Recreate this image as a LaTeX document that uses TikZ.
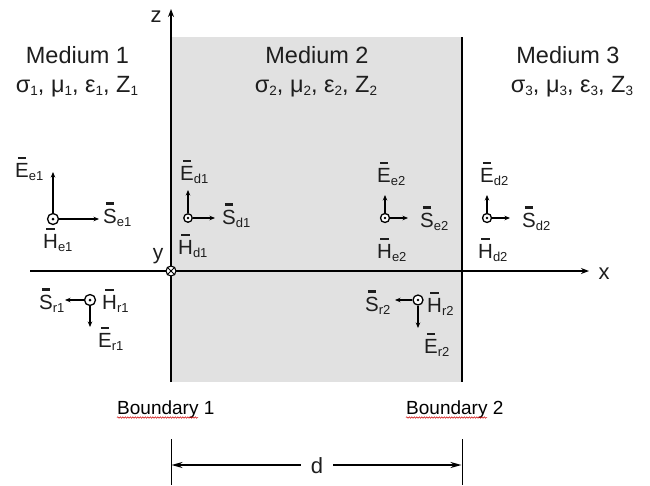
\documentclass[tikz,border=0pt]{standalone}
\usepackage{fontspec}
\setmainfont{Liberation Sans}
\usetikzlibrary{arrows.meta,decorations.pathmorphing}
\definecolor{shd}{RGB}{225,225,225}
\definecolor{tc}{RGB}{30,30,30}
\newsavebox{\vbx}
\newcommand{\vbar}[1]{\sbox{\vbx}{#1}\rlap{\hbox to \wd\vbx{\hss\raisebox{\dimexpr\ht\vbx+4pt\relax}{\rule{0.6\wd\vbx}{2.2pt}}\hss}}\usebox{\vbx}}
\newcommand{\vl}[2]{\vbar{#1}\raisebox{-3pt}{\fontsize{13}{13}\selectfont #2}}
\newcommand{\sbs}[1]{\raisebox{-3pt}{\fontsize{13.5}{13.5}\selectfont #1}}
\tikzset{
  axis/.style={line width=1.8pt, -{Stealth[length=8pt,width=6pt]}},
  bline/.style={line width=1.3pt},
  varr/.style={line width=1.4pt, -{Stealth[length=5.5pt,width=4.5pt]}},
  dotc/.style={circle, draw, line width=1.3pt, fill=white, inner sep=0pt},
  lab/.style={font=\fontsize{20.5}{21}\selectfont, inner sep=0pt, anchor=base west, text=tc},
  med/.style={font=\fontsize{23.5}{27}\selectfont, inner sep=0pt, anchor=base, text=tc},
  bnd/.style={font=\fontsize{19}{22}\selectfont, inner sep=0pt, anchor=base west, text=black},
  wavy/.style={draw=red!80!black, line width=0.5pt, decorate, decoration={snake, amplitude=0.7pt, segment length=2.5pt}},
  tick/.style={line width=1pt},
  dim/.style={line width=1.8pt, -{Stealth[length=11pt,width=6pt]}}
}
\begin{document}
\begin{tikzpicture}[x=1pt,y=-1pt]
\useasboundingbox (0,0) rectangle (650,485);
\fill[white] (0,0) rectangle (650,485);
% medium 2 shading and boundary 2
\fill[shd] (172,37) rectangle (462,382);
\coordinate (b2t) at (462,37);
\coordinate (b2b) at (462,382);
\draw[bline] (b2t) -- (b2b);
% axes
\coordinate (zb) at (171,382);
\coordinate (zt) at (171,9);
\draw[axis] (zb) -- (zt);
\coordinate (xl) at (30,271);
\coordinate (xr) at (589,271);
\draw[axis] (xl) -- (xr);
\node[font=\fontsize{22}{22}\selectfont, text=tc, inner sep=0pt] (zl) at (156,17) {z};
\node[font=\fontsize{22}{22}\selectfont, text=tc, inner sep=0pt] (xlab) at (604,274) {x};
\node[font=\fontsize{21}{21}\selectfont, text=tc, inner sep=0pt] (ylab) at (158,256) {y};
% origin (y into page)
\node[circle, draw, line width=1.1pt, fill=white, minimum size=10pt, inner sep=0pt] (o) at (171,271) {};
\draw[line width=0.9pt] (o.45) -- (o.225) (o.135) -- (o.315);
% medium labels
\node[med] (m1) at (77.5,63) {Medium 1};
\node[med] (p1) at (77,92) {σ\sbs{1}, μ\sbs{1}, ε\sbs{1}, Z\sbs{1}};
\node[med] (m2) at (317,63) {Medium 2};
\node[med] (p2) at (316,92) {σ\sbs{2}, μ\sbs{2}, ε\sbs{2}, Z\sbs{2}};
\node[med] (m3) at (568,63) {Medium 3};
\node[med] (p3) at (572,92) {σ\sbs{3}, μ\sbs{3}, ε\sbs{3}, Z\sbs{3}};
% incident wave, medium 1
\node[dotc, minimum size=11pt] (ce1) at (53,219) {};
\fill (ce1.center) circle (1.5pt);
\coordinate (ue1) at (53,172);
\coordinate (re1) at (99,219);
\draw[varr] (ce1) -- (ue1);
\draw[varr] (ce1) -- (re1);
\node[lab] (Ee1) at (15,177) {\vl{E}{e1}};
\node[lab] (Se1) at (103,223) {\vl{S}{e1}};
\node[lab] (He1) at (43,248) {\vl{H}{e1}};
% reflected wave, medium 1
\node[dotc, minimum size=11pt] (cr1) at (90,300) {};
\fill (cr1.center) circle (1.5pt);
\coordinate (lr1) at (65,300);
\coordinate (dr1) at (90,327);
\draw[varr] (cr1) -- (lr1);
\draw[varr] (cr1) -- (dr1);
\node[lab] (Sr1) at (39,309) {\vl{S}{r1}};
\node[lab] (Hr1) at (102,309) {\vl{H}{r1}};
\node[lab] (Er1) at (98,347) {\vl{E}{r1}};
% transmitted wave d1
\node[dotc, minimum size=8.5pt] (cd1) at (188,218) {};
\fill (cd1.center) circle (1.3pt);
\coordinate (ud1) at (188,190);
\coordinate (rd1) at (215,218);
\draw[varr] (cd1) -- (ud1);
\draw[varr] (cd1) -- (rd1);
\node[lab] (Ed1) at (180,180) {\vl{E}{d1}};
\node[lab] (Sd1) at (222,224) {\vl{S}{d1}};
\node[lab] (Hd1) at (178,254) {\vl{H}{d1}};
% wave e2
\node[dotc, minimum size=9pt] (ce2) at (385,218) {};
\fill (ce2.center) circle (1.3pt);
\coordinate (ue2) at (385,195);
\coordinate (re2) at (408,218);
\draw[varr] (ce2) -- (ue2);
\draw[varr] (ce2) -- (re2);
\node[lab] (Ee2) at (377,182) {\vl{E}{e2}};
\node[lab] (Se2) at (420,227) {\vl{S}{e2}};
\node[lab] (He2) at (377,258) {\vl{H}{e2}};
% wave d2
\node[dotc, minimum size=9pt] (cd2) at (487,218) {};
\fill (cd2.center) circle (1.3pt);
\coordinate (ud2) at (487,195);
\coordinate (rd2) at (510,218);
\draw[varr] (cd2) -- (ud2);
\draw[varr] (cd2) -- (rd2);
\node[lab] (Ed2) at (480,182) {\vl{E}{d2}};
\node[lab] (Sd2) at (522,227) {\vl{S}{d2}};
\node[lab] (Hd2) at (478,258) {\vl{H}{d2}};
% reflected wave r2
\node[dotc, minimum size=10pt] (cr2) at (418,300) {};
\fill (cr2.center) circle (1.4pt);
\coordinate (lr2) at (395,300);
\coordinate (dr2) at (418,328);
\draw[varr] (cr2) -- (lr2);
\draw[varr] (cr2) -- (dr2);
\node[lab] (Sr2) at (365,311) {\vl{S}{r2}};
\node[lab] (Hr2) at (427,312) {\vl{H}{r2}};
\node[lab] (Er2) at (424,353) {\vl{E}{r2}};
% boundaries
\node[bnd] (bn1) at (117,414) {Boundary 1};
\node[bnd] (bn2) at (406,414) {Boundary 2};
\draw[wavy] (bn1.base west) ++(0,3.5) -- ++(81,0);
\draw[wavy] (bn2.base west) ++(0,3.5) -- ++(81,0);
% dimension d
\coordinate (t1a) at (171,439);
\coordinate (t1b) at (171,485);
\coordinate (t2a) at (462,439);
\coordinate (t2b) at (462,485);
\draw[tick] (t1a) -- (t1b);
\draw[tick] (t2a) -- (t2b);
\node[font=\fontsize{22}{22}\selectfont, text=tc, inner xsep=10pt, inner ysep=0pt] (dl) at (317,466) {d};
\coordinate (dL) at (171.5,465);
\coordinate (dR) at (461.5,465);
\draw[dim] (dl.west |- dL) -- (dL);
\draw[dim] (dl.east |- dR) -- (dR);
\end{tikzpicture}
\end{document}
